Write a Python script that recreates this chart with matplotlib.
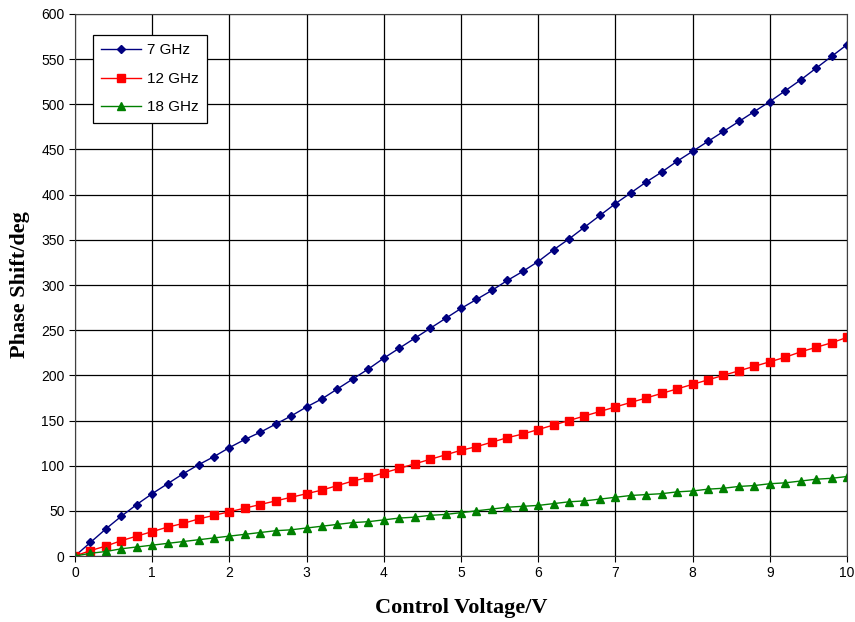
import matplotlib.pyplot as plt
import numpy as np

# control voltage sweep, 0.2 V steps
voltage = np.round(np.arange(0, 10.01, 0.2), 1)

# measured phase shift (deg) at each frequency
shift_7ghz = [0, 15, 30, 44, 57, 69, 80, 91, 101, 110, 120, 129, 137, 146, 155, 165, 174,
              185, 196, 207, 219, 230, 241, 252, 263, 274, 284, 294, 305, 315, 326, 339,
              351, 364, 377, 390, 402, 414, 425, 437, 448, 459, 470, 481, 492, 503, 515,
              527, 540, 553, 566]
shift_12ghz = [0, 6, 11, 17, 22, 27, 32, 36, 41, 45, 49, 53, 57, 61, 65, 69, 73, 78, 83, 87,
               92, 97, 102, 107, 112, 117, 121, 126, 131, 135, 140, 145, 150, 155, 160, 165,
               170, 175, 180, 185, 190, 195, 200, 205, 210, 215, 220, 226, 231, 236, 242]
shift_18ghz = [0, 3, 5, 8, 10, 12, 14, 16, 18, 20, 22, 24, 26, 28, 29, 31, 33, 35, 37, 38,
               40, 42, 43, 45, 46, 48, 50, 52, 54, 55, 56, 58, 60, 61, 63, 65, 67, 68, 69, 71,
               72, 74, 75, 77, 78, 80, 81, 83, 85, 86, 88]

labels = ['7 GHz', '12 GHz', '18 GHz']

fig = plt.figure(figsize=(8.55, 6.22), dpi=100)
ax = fig.add_axes([0.0877, 0.1061, 0.9029, 0.8714])

ax.plot(voltage, shift_7ghz, color='#000080', marker='D', markersize=4.5, lw=1.0, label=labels[0])
ax.plot(voltage, shift_12ghz, color='#FF0000', marker='s', markersize=5.5, lw=1.0, label=labels[1])
ax.plot(voltage, shift_18ghz, color='#008000', marker='^', markersize=6, lw=1.0, label=labels[2])

ax.set_xlim(0, 10)
ax.set_ylim(0, 600)
ax.set_xticks(np.arange(0, 11, 1))
ax.set_yticks(np.arange(0, 601, 50))
ax.grid(True, color='black', lw=0.9)
ax.set_axisbelow(True)
for s in ax.spines.values():
    s.set_color('#404040')

ax.tick_params(labelsize=10, length=4, color='black')
for t in ax.get_xticklabels() + ax.get_yticklabels():
    t.set_family('Liberation Sans')

ax.set_xlabel('Control Voltage/V', family='Liberation Serif', weight='bold', fontsize=16, labelpad=13)
ax.set_ylabel('Phase Shift/deg', family='Liberation Serif', weight='bold', fontsize=16, labelpad=8)

leg = ax.legend(loc='upper left', bbox_to_anchor=(0.0233, 0.9613), borderaxespad=0,
                fancybox=False, edgecolor='black', framealpha=1,
                prop={'family': 'Liberation Sans', 'size': 11},
                handlelength=2.6, handletextpad=0.4, labelspacing=0.95, borderpad=0.55)
leg.get_frame().set_linewidth(0.9)

fig.savefig('out.png', dpi=100)
